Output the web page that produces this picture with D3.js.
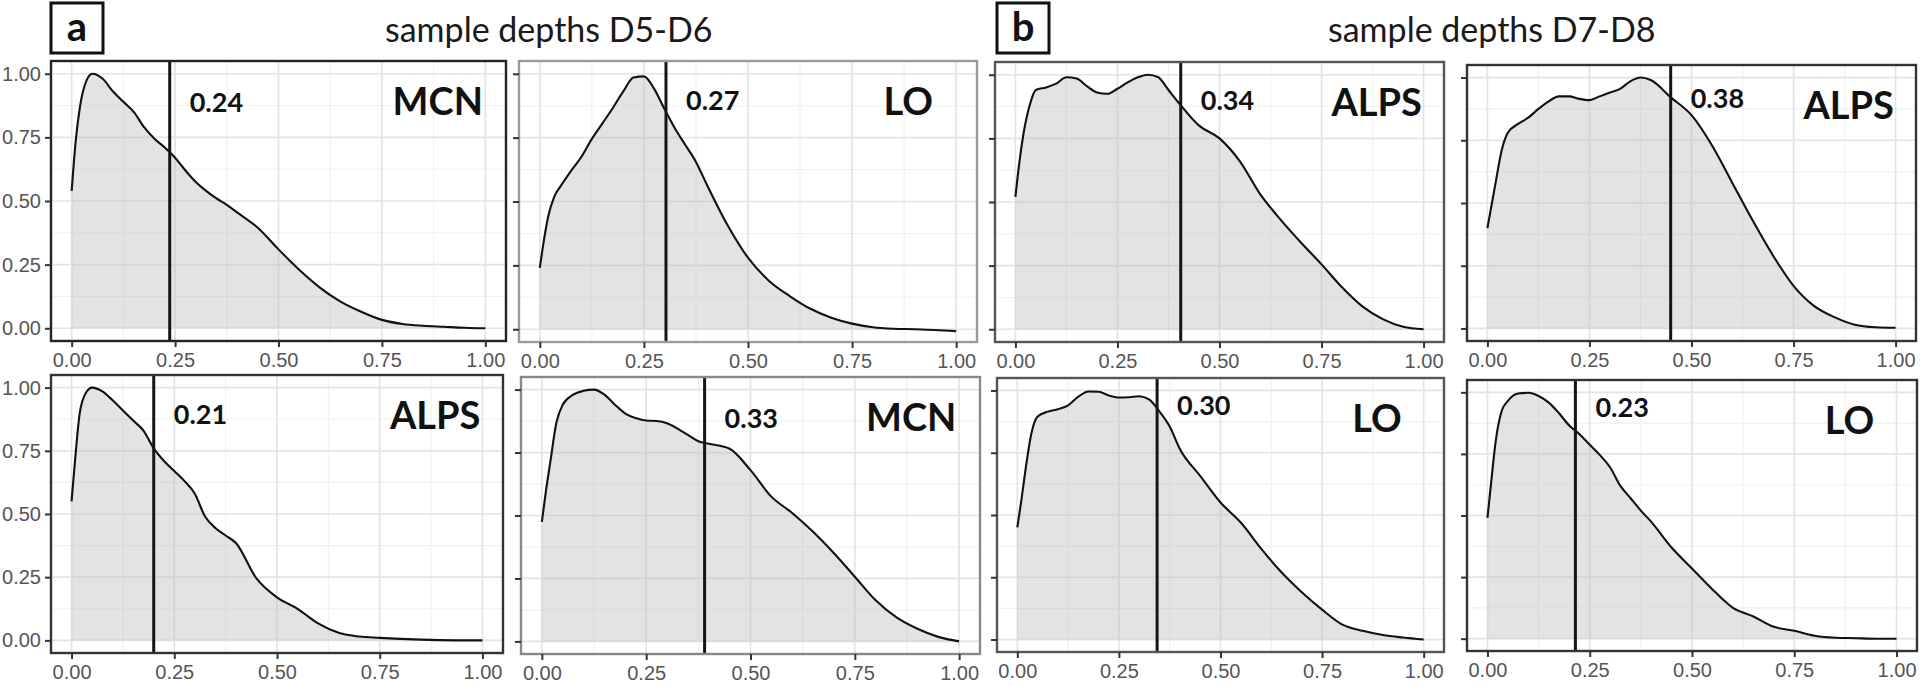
<!DOCTYPE html>
<html>
<head>
<meta charset="utf-8">
<script src="https://cdn.jsdelivr.net/npm/d3@7"></script>
<style>
  body { margin: 0; background: #fff; }
  svg { display: block; }
</style>
</head>
<body>
<div id="chart"></div>
<script>
// DATA
// x positions where the density curves were read off the picture
var xGrid = [0, 0.01, 0.02, 0.035, 0.05, 0.075, 0.1, 0.125, 0.15, 0.175, 0.2, 0.225, 0.25,
             0.275, 0.3, 0.325, 0.35, 0.375, 0.4, 0.45, 0.5, 0.55, 0.6, 0.65, 0.7, 0.75,
             0.8, 0.85, 0.9, 0.95, 1.0];

// panel a, top row
var densMCN_D56 = [0.54, 0.74, 0.87, 0.97, 1.0, 0.98, 0.93, 0.89, 0.85, 0.79, 0.745, 0.71, 0.67,
                   0.62, 0.575, 0.54, 0.51, 0.485, 0.455, 0.395, 0.31, 0.23, 0.16, 0.105, 0.065, 0.033,
                   0.017, 0.01, 0.006, 0.002, 0.0];
var densLO_D56 = [0.24, 0.35, 0.44, 0.52, 0.56, 0.62, 0.675, 0.745, 0.805, 0.865, 0.93, 0.985, 0.99,
                  0.94, 0.86, 0.785, 0.72, 0.655, 0.57, 0.41, 0.28, 0.19, 0.13, 0.08, 0.045, 0.022,
                  0.008, 0.002, 0.0, -0.003, -0.008];
// panel b, top row
var densALPS_D78a = [0.52, 0.66, 0.77, 0.88, 0.94, 0.95, 0.965, 0.99, 0.985, 0.955, 0.93, 0.925, 0.945,
                     0.97, 0.99, 1.0, 0.99, 0.94, 0.89, 0.80, 0.75, 0.66, 0.53, 0.43, 0.34, 0.255,
                     0.165, 0.09, 0.04, 0.01, 0.0];
var densALPS_D78b = [0.40, 0.49, 0.58, 0.71, 0.78, 0.815, 0.84, 0.875, 0.905, 0.925, 0.925, 0.915, 0.91,
                     0.925, 0.94, 0.955, 0.985, 1.0, 0.99, 0.92, 0.85, 0.73, 0.58, 0.43, 0.29, 0.17,
                     0.09, 0.045, 0.015, 0.005, 0.003];
// panel a, bottom row
var densALPS_D56 = [0.55, 0.74, 0.90, 0.98, 1.0, 0.985, 0.95, 0.91, 0.87, 0.83, 0.76, 0.71, 0.67,
                    0.63, 0.58, 0.49, 0.445, 0.415, 0.385, 0.245, 0.17, 0.125, 0.067, 0.03, 0.015, 0.01,
                    0.006, 0.003, 0.001, 0.0, 0.0];
var densMCN_D56b = [0.475, 0.60, 0.71, 0.87, 0.94, 0.98, 0.995, 1.0, 0.98, 0.94, 0.905, 0.887, 0.877,
                    0.875, 0.866, 0.845, 0.82, 0.795, 0.785, 0.765, 0.68, 0.575, 0.51, 0.435, 0.35, 0.257,
                    0.163, 0.095, 0.05, 0.018, 0.0];
// panel b, bottom row
var densLO_D78a = [0.45, 0.56, 0.68, 0.83, 0.895, 0.915, 0.925, 0.94, 0.975, 0.996, 0.995, 0.98, 0.972,
                   0.973, 0.977, 0.963, 0.915, 0.855, 0.765, 0.657, 0.55, 0.47, 0.365, 0.27, 0.19, 0.12,
                   0.06, 0.035, 0.018, 0.008, 0.0];
var densLO_D78b = [0.49, 0.65, 0.80, 0.925, 0.965, 0.995, 0.998, 0.985, 0.958, 0.915, 0.865, 0.83, 0.787,
                   0.745, 0.695, 0.62, 0.57, 0.52, 0.475, 0.37, 0.285, 0.2, 0.125, 0.09, 0.048, 0.032,
                   0.012, 0.004, 0.002, 0.0, 0.0];

var panelNames   = ['MCN', 'LO', 'ALPS', 'ALPS', 'ALPS', 'MCN', 'LO', 'LO'];
var medianLabels = ['0.24', '0.27', '0.34', '0.38', '0.21', '0.33', '0.30', '0.23'];
var vlineX       = [0.237, 0.303, 0.405, 0.449, 0.20, 0.39, 0.344, 0.215];
var densities    = [densMCN_D56, densLO_D56, densALPS_D78a, densALPS_D78b,
                    densALPS_D56, densMCN_D56b, densLO_D78a, densLO_D78b];

var groupLetters = ['a', 'b'];
var groupTitles  = ['sample depths D5-D6', 'sample depths D7-D8'];
var axisTicks    = [0, 0.25, 0.5, 0.75, 1];
var minorTicks   = [0.125, 0.375, 0.625, 0.875];

// LAYOUT (pixel boxes of the eight panels, as placed in the figure)
var boxes = [
  { x0: 51,   y0: 61,  x1: 506,  y1: 341, border: '#222' },
  { x0: 519,  y0: 61,  x1: 977,  y1: 342, border: '#9a9a9a' },
  { x0: 995,  y0: 62,  x1: 1444, y1: 342, border: '#555' },
  { x0: 1467, y0: 65,  x1: 1916, y1: 341, border: '#333' },
  { x0: 51,   y0: 375, x1: 503,  y1: 653, border: '#333' },
  { x0: 521,  y0: 377, x1: 980,  y1: 654, border: '#888' },
  { x0: 997,  y0: 378, x1: 1444, y1: 652, border: '#555' },
  { x0: 1467, y0: 380, x1: 1917, y1: 651, border: '#333' }
];
var showYLabels = [true, false, false, false, true, false, false, false];
var labelDy     = [51, 49, 48, 43, 49, 51, 37, 37];
var headerBoxes = [{ x: 51, y: 3 }, { x: 997, y: 3 }];
var headerTitleX = [385, 1328];

var W = 1920, H = 686;
var svg = d3.select('#chart').append('svg')
  .attr('width', W)
  .attr('height', H);

// headers
groupLetters.forEach(function(letter, i) {
  var hb = headerBoxes[i];
  svg.append('rect')
    .attr('x', hb.x).attr('y', hb.y)
    .attr('width', 52).attr('height', 50)
    .attr('fill', 'none')
    .attr('stroke', '#111')
    .attr('stroke-width', 3);
  svg.append('text')
    .attr('x', hb.x + 26).attr('y', hb.y + 38)
    .attr('text-anchor', 'middle')
    .attr('font-family', 'Lato, sans-serif')
    .attr('font-weight', 'bold')
    .attr('font-size', '40px')
    .attr('fill', '#111')
    .text(letter);
  svg.append('text')
    .attr('x', headerTitleX[i]).attr('y', 42)
    .attr('font-family', 'Lato, sans-serif')
    .attr('font-size', '34px')
    .attr('fill', '#1a1a1a')
    .text(groupTitles[i]);
});

// panels
densities.forEach(function(dens, p) {
  var b = boxes[p];
  var x = d3.scaleLinear().domain([-0.05, 1.05]).range([b.x0, b.x1]);
  var y = d3.scaleLinear().domain([-0.05, 1.05]).range([b.y1, b.y0]);
  var pts = xGrid.map(function(v, i) { return { x: v, y: dens[i] }; });

  var g = svg.append('g');
  var clipId = 'clip' + p;
  g.append('clipPath').attr('id', clipId)
    .append('rect')
    .attr('x', b.x0).attr('y', b.y0)
    .attr('width', b.x1 - b.x0).attr('height', b.y1 - b.y0);

  var inner = g.append('g').attr('clip-path', 'url(#' + clipId + ')');

  // grid
  inner.selectAll('.minx').data(minorTicks).enter().append('line')
    .attr('x1', function(d) { return x(d); }).attr('x2', function(d) { return x(d); })
    .attr('y1', b.y0).attr('y2', b.y1)
    .attr('stroke', '#f0f0f0').attr('stroke-width', 1.1);
  inner.selectAll('.miny').data(minorTicks).enter().append('line')
    .attr('y1', function(d) { return y(d); }).attr('y2', function(d) { return y(d); })
    .attr('x1', b.x0).attr('x2', b.x1)
    .attr('stroke', '#f0f0f0').attr('stroke-width', 1.1);
  inner.selectAll('.majx').data(axisTicks).enter().append('line')
    .attr('x1', function(d) { return x(d); }).attr('x2', function(d) { return x(d); })
    .attr('y1', b.y0).attr('y2', b.y1)
    .attr('stroke', '#e4e4e4').attr('stroke-width', 1.7);
  inner.selectAll('.majy').data(axisTicks).enter().append('line')
    .attr('y1', function(d) { return y(d); }).attr('y2', function(d) { return y(d); })
    .attr('x1', b.x0).attr('x2', b.x1)
    .attr('stroke', '#e4e4e4').attr('stroke-width', 1.7);

  // density area + outline
  var area = d3.area()
    .x(function(d) { return x(d.x); })
    .y0(y(0))
    .y1(function(d) { return y(d.y); })
    .curve(d3.curveMonotoneX);
  var line = d3.line()
    .x(function(d) { return x(d.x); })
    .y(function(d) { return y(d.y); })
    .curve(d3.curveMonotoneX);

  inner.append('path').datum(pts)
    .attr('d', area)
    .attr('fill', '#bdbdbd')
    .attr('fill-opacity', 0.42);
  inner.append('path').datum(pts)
    .attr('d', line)
    .attr('fill', 'none')
    .attr('stroke', '#111')
    .attr('stroke-width', 2.1);

  // vertical line
  inner.append('line')
    .attr('x1', x(vlineX[p])).attr('x2', x(vlineX[p]))
    .attr('y1', b.y0).attr('y2', b.y1)
    .attr('stroke', '#151515')
    .attr('stroke-width', 3);

  // labels
  g.append('text')
    .attr('x', x(vlineX[p]) + 20)
    .attr('y', b.y0 + labelDy[p])
    .attr('font-family', 'Lato, sans-serif')
    .attr('font-weight', 'bold')
    .attr('font-size', '27px')
    .attr('fill', '#111')
    .text(medianLabels[p]);
  g.append('text')
    .attr('x', x(0.885))
    .attr('y', b.y0 + 54)
    .attr('text-anchor', 'middle')
    .attr('font-family', 'Lato, sans-serif')
    .attr('font-weight', 'bold')
    .attr('font-size', '38px')
    .attr('fill', '#111')
    .text(panelNames[p]);

  // border
  g.append('rect')
    .attr('x', b.x0).attr('y', b.y0)
    .attr('width', b.x1 - b.x0).attr('height', b.y1 - b.y0)
    .attr('fill', 'none')
    .attr('stroke', b.border)
    .attr('stroke-width', 2.4);

  // axes
  var xAxis = d3.axisBottom(x)
    .tickValues(axisTicks)
    .tickFormat(d3.format('.2f'))
    .tickSize(6)
    .tickPadding(6);
  var xg = g.append('g')
    .attr('transform', 'translate(0,' + b.y1 + ')')
    .call(xAxis);
  xg.select('.domain').remove();

  var yAxis = d3.axisLeft(y)
    .tickValues(axisTicks)
    .tickFormat(showYLabels[p] ? d3.format('.2f') : '')
    .tickSize(6)
    .tickPadding(4);
  var yg = g.append('g')
    .attr('transform', 'translate(' + b.x0 + ',0)')
    .call(yAxis);
  yg.select('.domain').remove();

  [xg, yg].forEach(function(ax) {
    ax.selectAll('.tick line').attr('stroke', '#333').attr('stroke-width', 2);
    ax.selectAll('.tick text')
      .attr('font-family', '"Liberation Sans", Arial, sans-serif')
      .attr('font-size', '20px')
      .attr('fill', '#555');
  });
});
</script>
</body>
</html>
